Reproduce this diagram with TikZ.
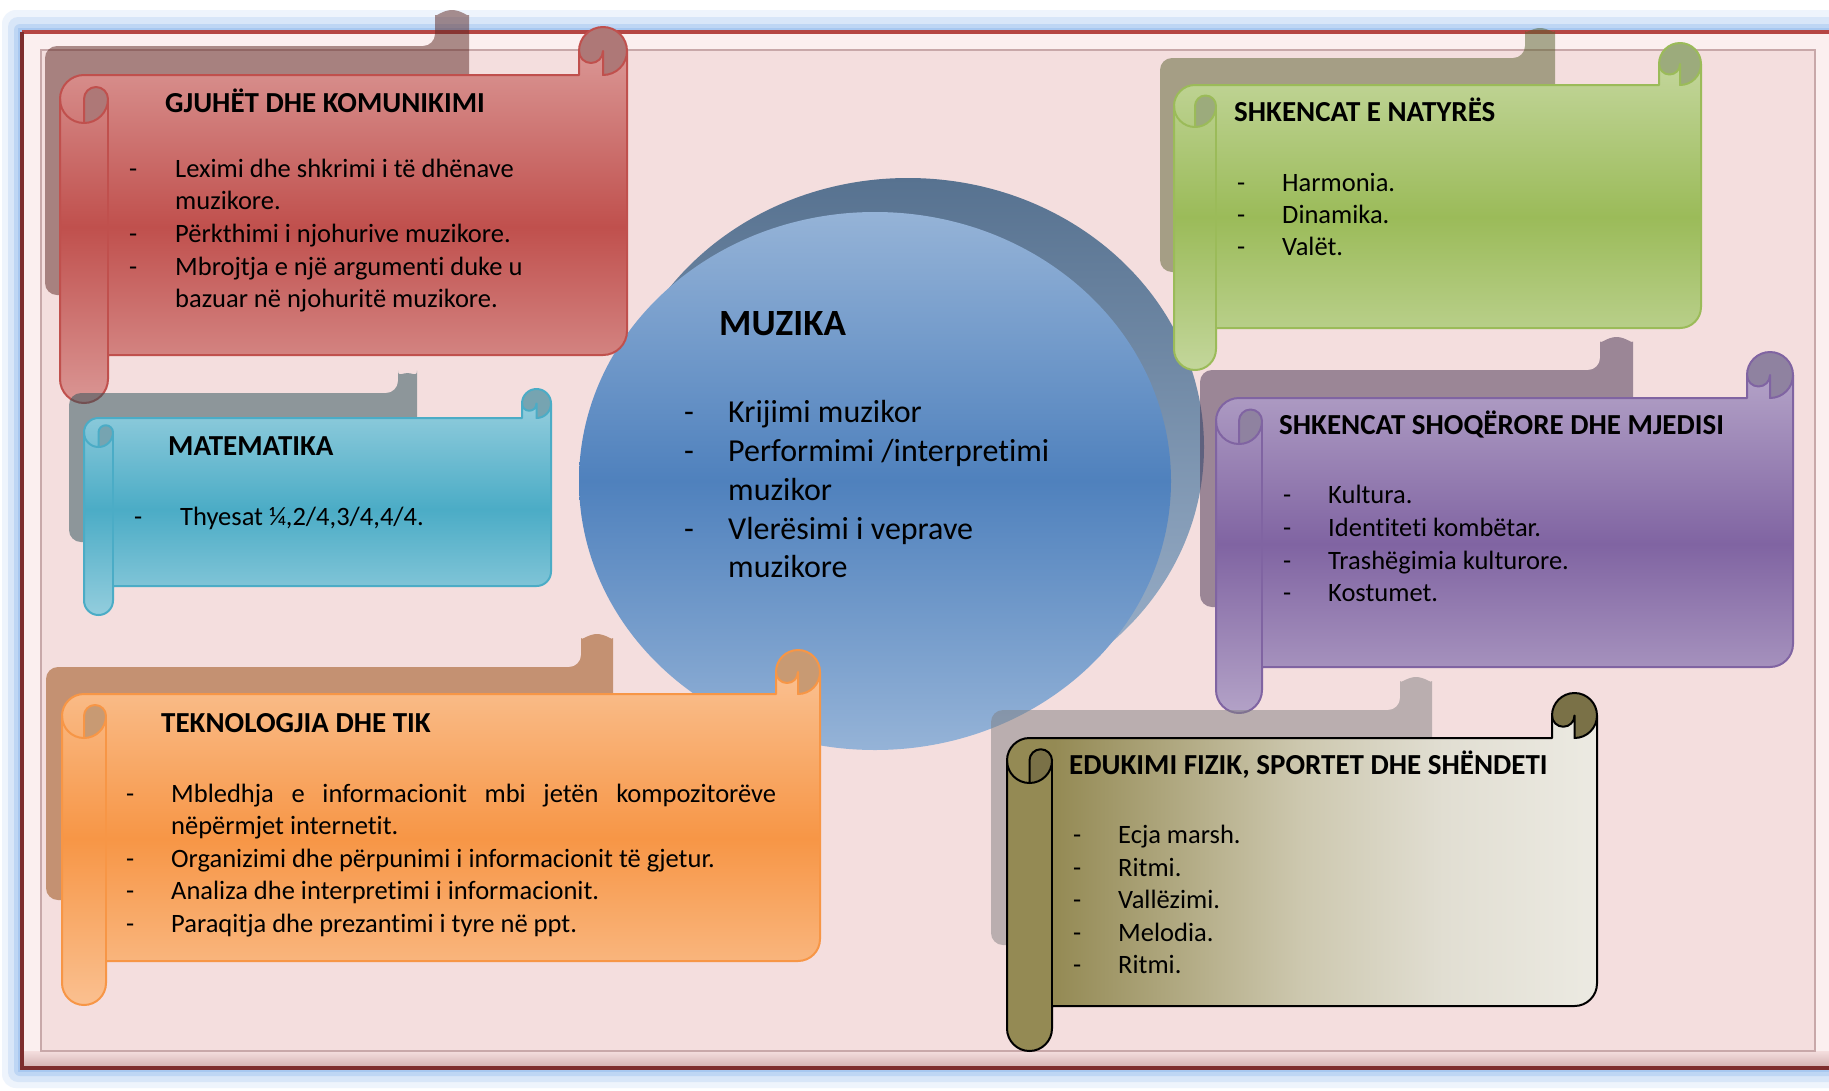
\documentclass[tikz,border=0pt]{standalone}
\usepackage{fontspec}
\setmainfont{Carlito}[Ligatures=NoCommon]

\definecolor{pinkbg}{HTML}{F4DEDE}
\definecolor{glowblue}{HTML}{A8C8F0}
\definecolor{bevel}{HTML}{FBEFEF}
\definecolor{bevdark}{HTML}{D2B0B0}
\definecolor{innerline}{HTML}{C8A8A9}
\definecolor{framered}{HTML}{B54644}
\definecolor{framedark}{HTML}{7D2E2E}
\definecolor{ringtop}{HTML}{577290}
\definecolor{ringbot}{HTML}{A0B5CE}
\definecolor{muzlight}{HTML}{95B3D7}
\definecolor{muzmid}{HTML}{4F81BD}
\definecolor{redtop}{HTML}{DA9694}
\definecolor{redmid}{HTML}{C0504D}
\definecolor{redcurl}{HTML}{AE7877}
\definecolor{cyantop}{HTML}{93CDDD}
\definecolor{cyanmid}{HTML}{4BACC6}
\definecolor{cyancurl}{HTML}{76A4B1}
\definecolor{orgtop}{HTML}{FAC090}
\definecolor{orgmid}{HTML}{F79646}
\definecolor{orgcurl}{HTML}{C89A73}
\definecolor{grntop}{HTML}{C3D69B}
\definecolor{grnmid}{HTML}{9BBB59}
\definecolor{grncurl}{HTML}{9CAB7C}
\definecolor{purtop}{HTML}{B3A2C7}
\definecolor{purmid}{HTML}{8064A2}
\definecolor{purcurl}{HTML}{8F82A0}
\definecolor{olvA}{HTML}{948A54}
\definecolor{olvB}{HTML}{CDC8AF}
\definecolor{olvD}{HTML}{E1DED2}
\definecolor{olvC}{HTML}{ECEAE2}
\definecolor{olvcurl}{HTML}{7A7147}
\definecolor{shred}{HTML}{5B2621}
\definecolor{shcyan}{HTML}{275057}
\definecolor{shorg}{HTML}{954607}
\definecolor{shgrn}{HTML}{57602D}
\definecolor{shpur}{HTML}{43304F}
\definecolor{sholv}{HTML}{818081}

\pgfdeclarehorizontalshading{olvshade}{100bp}{color(0bp)=(olvA); color(29bp)=(olvA); color(50bp)=(olvB); color(62bp)=(olvD); color(75bp)=(olvC); color(100bp)=(olvC)}

\tikzset{
  scrollline/.style={line width=2, line join=round},
  head/.style={anchor=base west, inner sep=0, font=\bfseries\fontsize{29}{34}\selectfont},
  item/.style={anchor=base west, inner sep=0, font=\fontsize{26.5}{32.5}\selectfont},
  bigitem/.style={anchor=base west, inner sep=0, font=\fontsize{32}{39}\selectfont},
  bighead/.style={anchor=base west, inner sep=0, font=\bfseries\fontsize{37}{44}\selectfont},
}

% shadow: L, T, R, B, tab left, tab top, colour
\newcommand{\scrollshadow}[7]{%
  \fill[#7, fill opacity=0.5, rounded corners=12] ({#5},{#2}) -- ({#1},{#2}) -- ({#1},{#4}) -- ({#3},{#4})
    -- ({#3},{#6+(#3-#5)/2}) arc[start angle=0,end angle=-180,radius={(#3-#5)/2}] -- cycle;
}

% scroll: L, T, R, B, roll width, fill, curl colour, line colour
\newcommand{\scroll}[8]{%
  \path[#6] ({#3},{#2+#5/2}) arc[start angle=0,end angle=90,radius={#5/2}]
    -- ({#3-#5/2},{#2+#5/2}) arc[start angle=0,end angle=180,radius={#5/4}]
    -- ({#3-#5},{#2+#5}) -- ({#1+#5/2},{#2+#5})
    arc[start angle=270,end angle=180,radius={#5/2}]
    -- ({#1},{#4-#5/2}) arc[start angle=180,end angle=0,radius={#5/2}]
    -- ({#1+#5},{#4-#5}) -- ({#3-#5/2},{#4-#5})
    arc[start angle=90,end angle=0,radius={#5/2}] -- cycle;
  % curls
  \fill[#7] ({#3},{#2+#5/2}) arc[start angle=0,end angle=90,radius={#5/2}]
    -- ({#3-#5/2},{#2+#5/2}) arc[start angle=0,end angle=180,radius={#5/4}]
    arc[start angle=180,end angle=360,radius={#5/2}] -- cycle;
  \fill[#7] ({#1+#5/2},{#2+2*#5}) arc[start angle=90,end angle=0,radius={#5/2}]
    arc[start angle=0,end angle=-180,radius={#5/4}] -- cycle;
  % outline
  \draw[#8, scrollline] ({#1+#5/2},{#2+#5}) -- ({#3-#5},{#2+#5}) -- ({#3-#5},{#2+#5/2})
    arc[start angle=180,end angle=360,radius={#5/2}] -- ({#3},{#4-3*#5/2})
    arc[start angle=0,end angle=90,radius={#5/2}] -- ({#1+#5},{#4-#5}) -- ({#1+#5},{#4-#5/2})
    arc[start angle=0,end angle=180,radius={#5/2}] -- ({#1},{#2+3*#5/2})
    arc[start angle=180,end angle=270,radius={#5/2}] -- cycle;
  \draw[#8, scrollline] ({#3},{#2+#5/2}) arc[start angle=0,end angle=90,radius={#5/2}]
    -- ({#3-#5/2},{#2+#5/2}) arc[start angle=0,end angle=180,radius={#5/4}];
  \draw[#8, scrollline] ({#1},{#2+3*#5/2}) arc[start angle=180,end angle=90,radius={#5/2}]
    arc[start angle=90,end angle=0,radius={#5/2}] arc[start angle=0,end angle=-180,radius={#5/4}]
    -- ({#1+#5/2},{#2+2*#5});
  \draw[#8, scrollline] ({#1+#5},{#2+3*#5/2}) -- ({#1+#5},{#4-#5});
}

\begin{document}
\begin{tikzpicture}[x=1pt,y=-1pt]
    \useasboundingbox (0,0) rectangle (1829,1090);
    \fill[white] (0,0) rectangle (1829,1090);

    % Glow
    \fill[glowblue!20, rounded corners=14] (2,10) rectangle (1860,1088);
    \fill[glowblue!45, rounded corners=10] (8,17) rectangle (1860,1082);
    \fill[glowblue!75, rounded corners=6] (14,24) rectangle (1860,1076);
    \fill[glowblue] (18,28) rectangle (1860,1072);

    % Frame
    \fill[bevel] (22,32) rectangle (1860,1068);
    \shade[top color=pinkbg, bottom color=bevdark] (22,1051) rectangle (1860,1068);
    \fill[pinkbg] (41,50) rectangle (1815,1051);
    \draw[innerline, line width=1.5] (41,50) rectangle (1815,1051);
    \draw[framered, line width=4] (22,32) -- (1860,32);
    \draw[framedark, line width=4] (22,32) -- (22,1068) -- (1860,1068);

    % Circle
    \shade[top color=ringtop, bottom color=ringbot] (908,447) ellipse [x radius=296, y radius=269];
    \shade[top color=muzlight, bottom color=muzlight, middle color=muzmid] (875,481) ellipse [x radius=296, y radius=269];
    \node[bighead] (muz) at (719,335) {MUZIKA};
    \node[bigitem] (muzd1) at (684,422) {-};
    \node[bigitem] (muz1) at (728,422) {Krijimi muzikor};
    \node[bigitem] (muzd2) at (684,461) {-};
    \node[bigitem] (muz2) at (728,461) {Performimi /interpretimi};
    \node[bigitem] (muz3) at (728,500) {muzikor};
    \node[bigitem] (muzd4) at (684,539) {-};
    \node[bigitem] (muz4) at (728,539) {Vlerësimi i veprave};
    \node[bigitem] (muz5) at (728,577) {muzikore};

    % Gjuhet
    \scrollshadow{45}{46}{469}{295}{435}{10}{shred}
    \scroll{60}{27}{627}{403}{48}{top color=redtop, bottom color=redtop, middle color=redmid}{redcurl}{redmid}
    \node[head] (gj) at (165,112) {GJUHËT DHE KOMUNIKIMI};
    \node[item] (gjd1) at (129,177) {-};
    \node[item] (gj1) at (175,177) {Leximi dhe shkrimi i të dhënave};
    \node[item] (gj2) at (175,209) {muzikore.};
    \node[item] (gjd3) at (129,242) {-};
    \node[item] (gj3) at (175,242) {Përkthimi i njohurive muzikore.};
    \node[item] (gjd4) at (129,275) {-};
    \node[item] (gj4) at (175,275) {Mbrojtja e një argumenti duke u};
    \node[item] (gj5) at (175,307) {bazuar në njohuritë muzikore.};

    % Matematika
    \scrollshadow{69}{393}{417}{542}{398}{373}{shcyan}
    \scroll{84}{389}{551}{615}{29}{top color=cyantop, bottom color=cyantop, middle color=cyanmid}{cyancurl}{cyanmid}
    \node[head] (mat) at (168,455) {MATEMATIKA};
    \node[item] (matd1) at (134,525) {-};
    \node[item] (mat1) at (180,525) {Thyesat ¼,2/4,3/4,4/4.};

    % Shkencat e natyres
    \scrollshadow{1160}{58}{1555}{272}{1525}{28}{shgrn}
    \scroll{1174}{43}{1701}{370}{42}{top color=grntop, bottom color=grntop, middle color=grnmid}{grncurl}{grnmid}
    \node[head] (nat) at (1234,121) {SHKENCAT E NATYRËS};
    \node[item] (natd1) at (1237,191) {-};
    \node[item] (nat1) at (1282,191) {Harmonia.};
    \node[item] (natd2) at (1237,223) {-};
    \node[item] (nat2) at (1282,223) {Dinamika.};
    \node[item] (natd3) at (1237,255) {-};
    \node[item] (nat3) at (1282,255) {Valët.};

    % Shkencat shoqerore
    \scrollshadow{1200}{370}{1633}{607}{1600}{337}{shpur}
    \scroll{1216}{352}{1793}{713}{46}{top color=purtop, bottom color=purtop, middle color=purmid}{purcurl}{purmid}
    \node[head] (shq) at (1279,434) {SHKENCAT SHOQËRORE DHE MJEDISI};
    \node[item] (shqd1) at (1283,503) {-};
    \node[item] (shq1) at (1328,503) {Kultura.};
    \node[item] (shqd2) at (1283,536) {-};
    \node[item] (shq2) at (1328,536) {Identiteti kombëtar.};
    \node[item] (shqd3) at (1283,569) {-};
    \node[item] (shq3) at (1328,569) {Trashëgimia kulturore.};
    \node[item] (shqd4) at (1283,601) {-};
    \node[item] (shq4) at (1328,601) {Kostumet.};

    % Teknologjia
    \scrollshadow{46}{667}{613}{900}{581}{634}{shorg}
    \scroll{62}{650}{820}{1005}{44}{top color=orgtop, bottom color=orgtop, middle color=orgmid}{orgcurl}{orgmid}
    \node[head] (tek) at (161,732) {TEKNOLOGJIA DHE TIK};
    \node[item] (tekd1) at (126,802) {-};
    \node[item] (tek1) at (171,802) {\makebox[605pt][s]{Mbledhja e informacionit mbi jetën kompozitorëve}};
    \node[item] (tek2) at (171,834) {nëpërmjet internetit.};
    \node[item] (tekd3) at (126,867) {-};
    \node[item] (tek3) at (171,867) {Organizimi dhe përpunimi i informacionit të gjetur.};
    \node[item] (tekd4) at (126,899) {-};
    \node[item] (tek4) at (171,899) {Analiza dhe interpretimi i informacionit.};
    \node[item] (tekd5) at (126,932) {-};
    \node[item] (tek5) at (171,932) {Paraqitja dhe prezantimi i tyre në ppt.};

    % Edukimi fizik
    \scrollshadow{991}{710}{1432}{945}{1400}{677}{sholv}
    \scroll{1007}{693}{1597}{1051}{45}{shade, shading=olvshade}{olvcurl}{black}
    \node[head] (edu) at (1069,774) {EDUKIMI FIZIK, SPORTET DHE SHËNDETI};
    \node[item] (edud1) at (1073,843) {-};
    \node[item] (edu1) at (1118,843) {Ecja marsh.};
    \node[item] (edud2) at (1073,876) {-};
    \node[item] (edu2) at (1118,876) {Ritmi.};
    \node[item] (edud3) at (1073,908) {-};
    \node[item] (edu3) at (1118,908) {Vallëzimi.};
    \node[item] (edud4) at (1073,941) {-};
    \node[item] (edu4) at (1118,941) {Melodia.};
    \node[item] (edud5) at (1073,973) {-};
    \node[item] (edu5) at (1118,973) {Ritmi.};
\end{tikzpicture}
\end{document}
